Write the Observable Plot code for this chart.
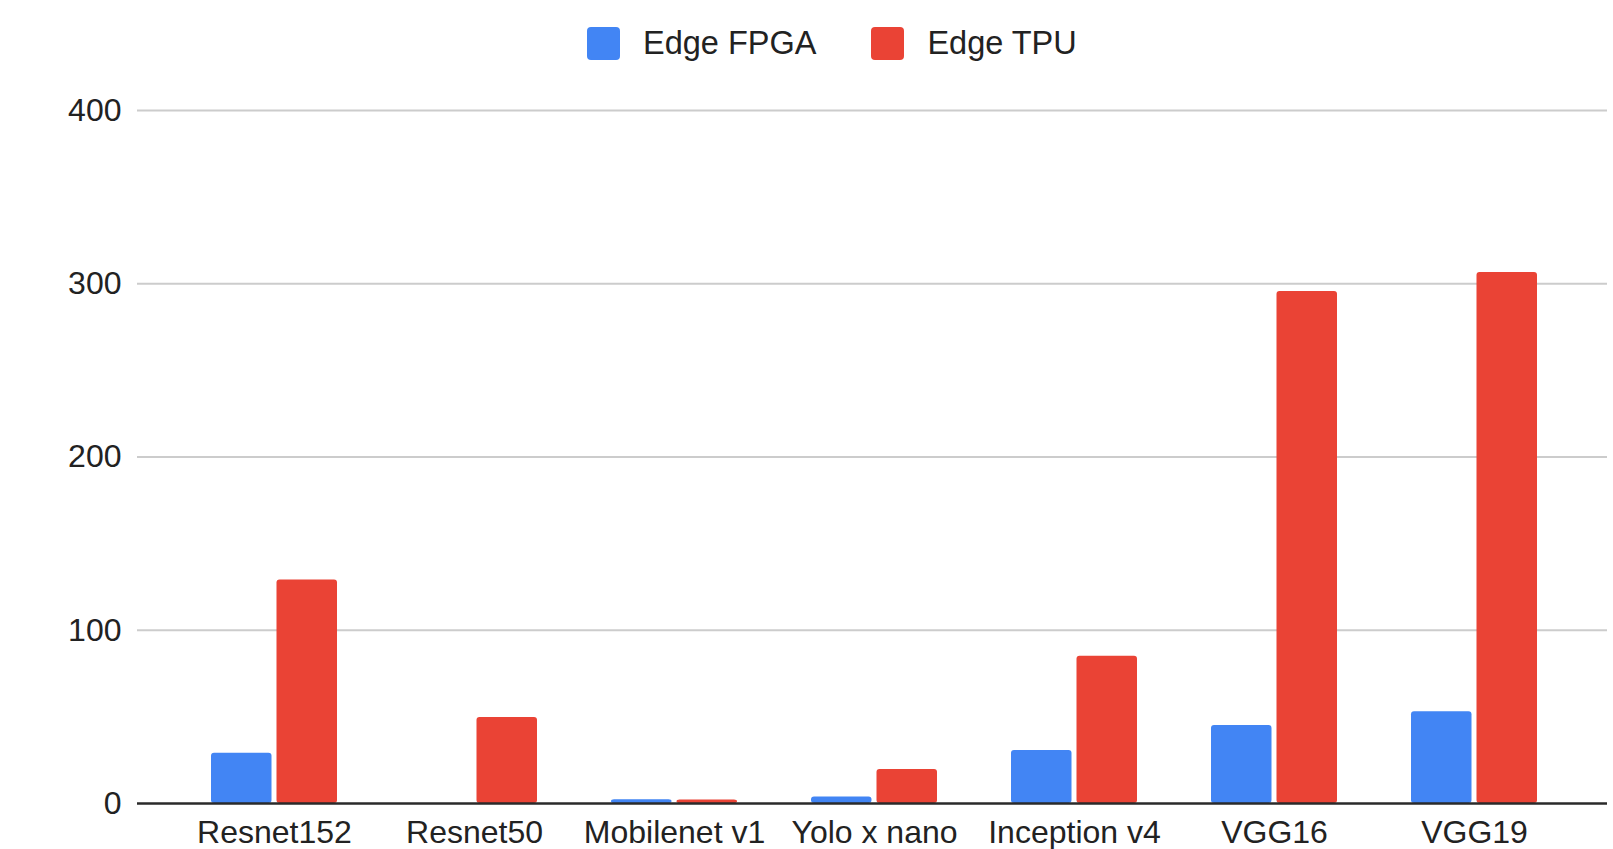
<!DOCTYPE html>
<html>
<head>
<meta charset="utf-8">
<script src="https://cdn.jsdelivr.net/npm/d3@7"></script>
<script src="https://cdn.jsdelivr.net/npm/@observablehq/plot@0.6"></script>
<style>
  body { margin: 0; background: #fff; font-family: "Liberation Sans", Arial, sans-serif; }
  #legend { height: 87px; display: flex; align-items: center; padding-left: 587px; font-size: 32.5px; color: #222; }
  #legend .item { display: flex; align-items: center; margin-right: 55px; }
  #legend .sw { width: 33px; height: 33px; border-radius: 4px; margin-right: 23px; }
</style>
</head>
<body>
<div id="legend"></div>
<div id="chart"></div>
<script>
// Models on the x axis
const models = ["Resnet152", "Resnet50", "Mobilenet v1", "Yolo x nano", "Inception v4", "VGG16", "VGG19"];
// Values per accelerator
const edgeFpga = [29, 0, 2.1, 3.7, 30.6, 45, 53];
const edgeTpu = [129, 49.6, 2, 19.6, 85, 295.5, 306.5];
// Series names and colours
const seriesNames = ["Edge FPGA", "Edge TPU"];
const seriesColors = ["#4285F4", "#EA4335"];
// Y axis ticks
const yTicks = [0, 100, 200, 300, 400];

const rowsFpga = models.map((m, i) => ({model: m, series: seriesNames[0], value: edgeFpga[i]}));
const rowsTpu = models.map((m, i) => ({model: m, series: seriesNames[1], value: edgeTpu[i]}));

// Legend
const legend = document.getElementById("legend");
seriesNames.forEach((name, i) => {
  const item = document.createElement("div");
  item.className = "item";
  const sw = document.createElement("div");
  sw.className = "sw";
  sw.style.background = seriesColors[i];
  const label = document.createElement("span");
  label.textContent = name;
  item.append(sw, label);
  legend.append(item);
});

const chart = Plot.plot({
  width: 1613,
  height: 762,
  marginTop: 23,
  marginBottom: 46,
  marginLeft: 137,
  marginRight: 6,
  style: {background: "#fff", fontFamily: "'Liberation Sans', Arial, sans-serif", fontSize: "32px", color: "#222", overflow: "visible"},
  x: {domain: models, padding: 0, insetLeft: 36, insetRight: 33, label: null},
  y: {domain: [0, 400], label: null},
  color: {domain: seriesNames, range: seriesColors},
  marks: [
    Plot.ruleY(yTicks.filter(t => t > 0), {stroke: "#cccccc", strokeWidth: 2}),
    Plot.barY(rowsFpga, {x: "model", y: "value", fill: "series", insetLeft: 37, insetRight: 102.5, rx: 3}),
    Plot.barY(rowsTpu, {x: "model", y: "value", fill: "series", insetLeft: 102.5, insetRight: 37, rx: 3}),
    Plot.ruleY([0], {stroke: "#2a2a2a", strokeWidth: 2.5}),
    Plot.axisY({ticks: yTicks, tickSize: 0, tickPadding: 16, fontSize: 32, label: null}),
    Plot.axisX({tickSize: 0, tickPadding: 17, fontSize: 32, label: null})
  ]
});
document.getElementById("chart").append(chart);
</script>
</body>
</html>
